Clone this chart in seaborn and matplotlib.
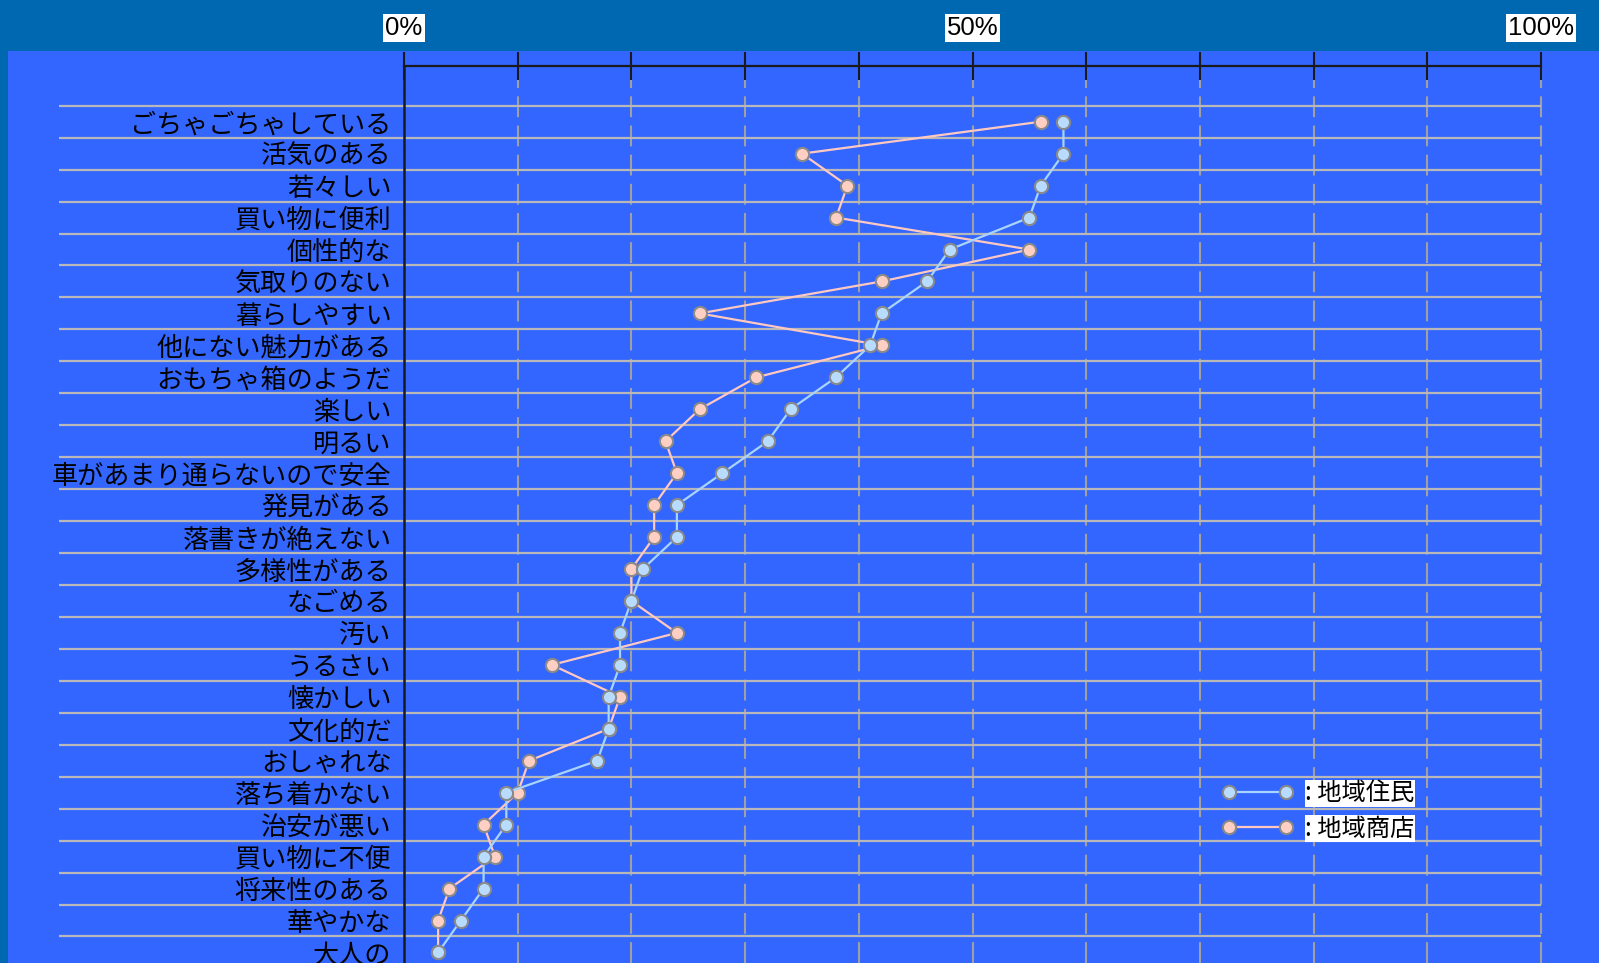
import matplotlib.pyplot as plt
import seaborn as sns
from matplotlib.lines import Line2D
from matplotlib.patches import Rectangle
from matplotlib.ticker import FixedLocator

plt.rcParams['font.family'] = ['Noto Sans CJK JP', 'DejaVu Sans']

# data (percent)
labels = ['ごちゃごちゃしている', '活気のある', '若々しい', '買い物に便利', '個性的な',
          '気取りのない', '暮らしやすい', '他にない魅力がある', 'おもちゃ箱のようだ', '楽しい',
          '明るい', '車があまり通らないので安全', '発見がある', '落書きが絶えない', '多様性がある',
          'なごめる', '汚い', 'うるさい', '懐かしい', '文化的だ', 'おしゃれな', '落ち着かない',
          '治安が悪い', '買い物に不便', '将来性のある', '華やかな', '大人の']
residents = [58, 58, 56, 55, 48, 46, 42, 41, 38, 34, 32, 28, 24, 24, 21, 20, 19, 19, 18, 18,
             17, 9, 9, 7, 7, 5, 3]
shops = [56, 35, 39, 38, 55, 42, 26, 42, 31, 26, 23, 24, 22, 22, 20, 20, 24, 13, 19, 18,
         11, 10, 7, 8, 4, 3, 3]
series_names = [': 地域住民', ': 地域商店']
major_ticks = [0, 50, 100]
major_labels = ['0%', '50%', '100%']
minor_ticks = [10, 20, 30, 40, 60, 70, 80, 90]

W, H = 1599, 963
band = '#0068b0'
panel = '#3366ff'
ink = '#1a1a1a'
blue_line, blue_fill = '#a8d4ff', '#b8dcff'
pink_line, pink_fill = '#ffc8c0', '#ffcfc4'
edge = '#8a8a8a'

fig = plt.figure(figsize=(W / 100, H / 100), dpi=100)
fig.patch.set_facecolor(band)
fig.add_artist(Rectangle((8 / W, 0), 1, (H - 51) / H, transform=fig.transFigure,
                         facecolor=panel, edgecolor='none', zorder=-5))

ax = fig.add_axes([404 / W, 0, 1141 / W, 1 - 66 / H])
ax.set_facecolor('none')

idx = list(range(len(labels)))

# row separators
ax.hlines([i - 0.5 for i in idx], -30.3, 100, colors='#b8b8b8', lw=1.6,
          clip_on=False, zorder=1)

# series
mk = dict(marker='o', markersize=9.5, markeredgecolor=edge, markeredgewidth=1.5)
sns.lineplot(x=shops, y=idx, orient='y', sort=False, errorbar=None, ax=ax,
             color=pink_line, lw=1.6, markerfacecolor=pink_fill, zorder=3, **mk)
sns.lineplot(x=residents, y=idx, orient='y', sort=False, errorbar=None, ax=ax,
             color=blue_line, lw=1.6, markerfacecolor=blue_fill, zorder=4, **mk)

ax.set_xlim(0, 100 * 1141 / 1137)
ax.set_ylim(26.33, -1.743)
ax.set_xlabel('')
ax.set_ylabel('')

# axes styling
for s in ['right', 'bottom']:
    ax.spines[s].set_visible(False)
ax.spines['top'].set_color(ink)
ax.spines['top'].set_linewidth(1.6)
ax.spines['top'].set_bounds(0, 100)
ax.spines['left'].set_color(ink)
ax.spines['left'].set_linewidth(1.8)

ax.xaxis.tick_top()
ax.xaxis.set_major_locator(FixedLocator(major_ticks))
ax.xaxis.set_minor_locator(FixedLocator(minor_ticks))
ax.set_xticklabels(major_labels, family=['Liberation Sans', 'DejaVu Sans'],
                   fontsize=18.5, color='black')
ax.tick_params(axis='x', which='both', direction='inout', length=20, width=1.5,
               color=ink, pad=9, top=True, bottom=False)
for t in ax.get_xticklabels():
    t.set_bbox(dict(facecolor='white', edgecolor='none', pad=1.5))
ax.xaxis.grid(True, which='both', color='#a0a0a0', lw=1.5, linestyle=(0, (10, 4)))
ax.set_axisbelow(True)

ax.set_yticks(idx)
ax.set_yticklabels(labels, fontsize=18.8, color='black')
ax.tick_params(axis='y', length=0, pad=9)

# legend
handles = [Line2D([], [], color=blue_line, lw=1.6, markerfacecolor=blue_fill, **mk),
           Line2D([], [], color=pink_line, lw=1.6, markerfacecolor=pink_fill, **mk)]
leg = ax.legend(handles, series_names, numpoints=2, frameon=False, fontsize=17.5,
                handlelength=2.95, handletextpad=0.5, labelspacing=0.38, borderpad=0,
                borderaxespad=0, loc='center left', bbox_to_anchor=(71.9, 21.57),
                bbox_transform=ax.transData)
for t in leg.get_texts():
    t.set_bbox(dict(facecolor='white', edgecolor='none', pad=0.5))

fig.savefig('out.png', dpi=100, facecolor=fig.get_facecolor())
